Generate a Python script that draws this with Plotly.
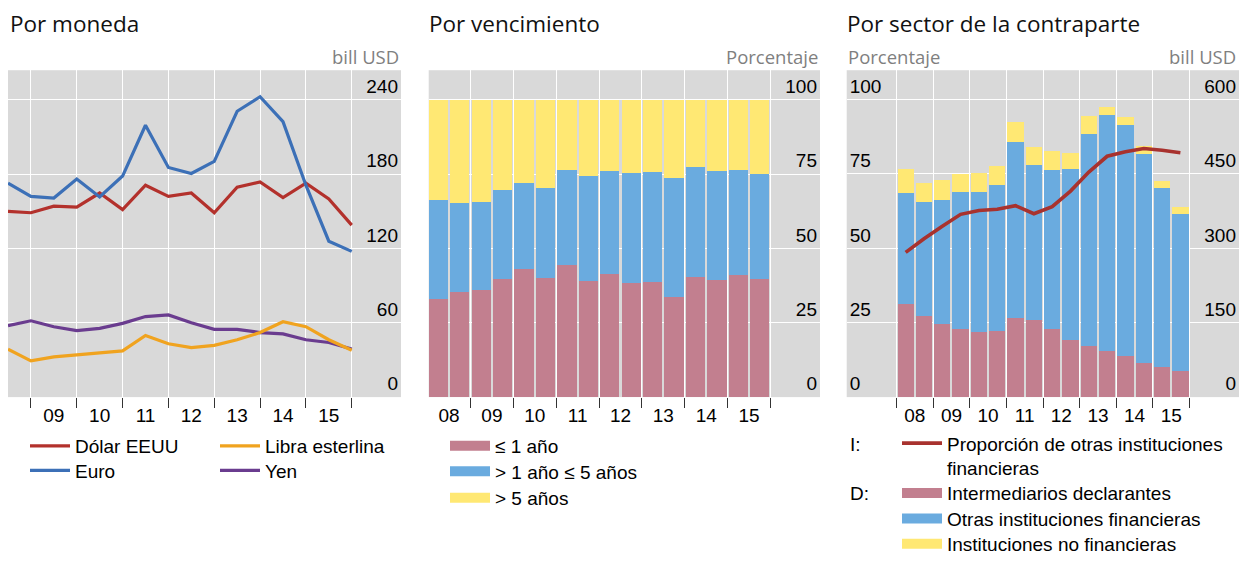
import plotly.graph_objects as go

W, H = 1239, 563

# ---------------- data ----------------
years = ["08", "09", "10", "11", "12", "13", "14", "15"]
idx = list(range(16))  # half-years, mid-2008 .. end-2015

# Panel 1: by currency (bill USD)
usd = [149.9, 148.8, 154.1, 153.3, 164.7, 151.4, 171.0, 162.0, 164.7, 148.8, 169.4, 173.6, 161.0, 172.6, 159.9, 138.8]
eur = [172.6, 162.0, 160.7, 176.0, 161.5, 178.4, 219.4, 185.3, 180.5, 190.3, 230.7, 242.4, 222.3, 171.0, 125.8, 117.6]
gbp = [38.6, 29.3, 32.5, 33.8, 35.7, 37.3, 49.7, 43.1, 39.9, 41.8, 46.3, 52.1, 60.8, 56.8, 46.3, 37.8]
jpy = [57.6, 61.6, 56.8, 53.7, 55.5, 59.5, 65.0, 66.3, 60.0, 54.7, 54.7, 52.1, 51.0, 46.3, 44.1, 38.9]

# Panel 2: by maturity (percentage)
mat_le1 = [33.1, 35.5, 36.1, 39.8, 43.2, 40.1, 44.4, 39.1, 41.4, 38.4, 38.8, 33.5, 40.5, 39.4, 41.2, 39.8]
mat_1to5 = [33.1, 29.7, 29.4, 30.0, 28.9, 30.1, 31.9, 35.3, 34.7, 37.0, 37.0, 40.3, 36.9, 36.7, 35.2, 35.3]
mat_gt5 = [33.8, 34.8, 34.5, 30.2, 27.9, 29.8, 23.7, 25.6, 23.9, 24.6, 24.2, 26.2, 22.6, 23.9, 23.6, 24.9]

# Panel 3: by counterparty sector
rep_dealers = [188.4, 164.0, 146.9, 136.3, 131.1, 132.4, 158.7, 156.1, 136.3, 115.3, 103.4, 92.9, 83.6, 67.8, 59.9, 52.0]
other_fin = [223.2, 229.8, 250.2, 277.3, 282.5, 295.0, 355.7, 310.9, 320.8, 343.7, 426.8, 474.8, 464.4, 422.9, 361.6, 316.2]
non_fin = [47.4, 37.6, 39.6, 35.6, 37.6, 37.6, 39.5, 36.8, 39.5, 33.6, 35.5, 17.8, 15.8, 15.8, 13.8, 15.8]
share_other_fin = [48.6, 53.2, 57.4, 61.4, 62.7, 63.1, 64.3, 61.6, 64.0, 69.2, 75.6, 80.9, 82.4, 83.5, 82.9, 82.1]

# ---------------- style ----------------
BG = "#d9d9d9"
C_USD, C_EUR, C_GBP, C_JPY = "#b3312c", "#3c70b7", "#f0a31f", "#6a3c8f"
C_PINK, C_BLUE, C_YEL = "#c27f8f", "#6aabdf", "#ffe873"
C_SHARE = "#a8322e"
TICK_FONT = dict(family="Liberation Sans, Arial, sans-serif", size=19, color="#000")
LEG_FONT = dict(family="Liberation Sans, Arial, sans-serif", size=19, color="#000")

ytop, ybot = 71.5, 404.3
ydom = [1 - ybot / H, 1 - ytop / H]

fig = go.Figure()

# ---- panel 1 lines ----
fig.add_trace(go.Scatter(x=idx, y=jpy, name="Yen", mode="lines", line=dict(color=C_JPY, width=3.2),
                         xaxis="x", yaxis="y", legend="legend4"))
fig.add_trace(go.Scatter(x=idx, y=gbp, name="Libra esterlina", mode="lines", line=dict(color=C_GBP, width=3.2),
                         xaxis="x", yaxis="y", legend="legend2"))
fig.add_trace(go.Scatter(x=idx, y=usd, name="Dólar EEUU", mode="lines", line=dict(color=C_USD, width=3.2),
                         xaxis="x", yaxis="y", legend="legend"))
fig.add_trace(go.Scatter(x=idx, y=eur, name="Euro", mode="lines", line=dict(color=C_EUR, width=3.2),
                         xaxis="x", yaxis="y", legend="legend3"))

# ---- panel 2 stacked bars ----
for name, vals, col, leg in [("≤ 1 año", mat_le1, C_PINK, "legend5"),
                             ("> 1 año ≤ 5 años", mat_1to5, C_BLUE, "legend6"),
                             ("> 5 años", mat_gt5, C_YEL, "legend7")]:
    fig.add_trace(go.Bar(x=idx, y=vals, name=name, marker=dict(color=col, line=dict(width=0)),
                         width=0.9, xaxis="x2", yaxis="y2", showlegend=False))
    fig.add_trace(go.Scatter(x=[None], y=[None], name=name, mode="lines",
                             line=dict(color=col, width=15), xaxis="x2", yaxis="y2", legend=leg))

# ---- panel 3 stacked bars (right axis) + share line (left axis) ----
for name, vals, col, leg in [("Intermediarios declarantes", rep_dealers, C_PINK, "legend9"),
                             ("Otras instituciones financieras", other_fin, C_BLUE, "legend10"),
                             ("Instituciones no financieras", non_fin, C_YEL, "legend11")]:
    fig.add_trace(go.Bar(x=idx, y=vals, name=name, marker=dict(color=col, line=dict(width=0)),
                         width=0.89, xaxis="x3", yaxis="y3", showlegend=False))
    fig.add_trace(go.Scatter(x=[None], y=[None], name=name, mode="lines",
                             line=dict(color=col, width=15), xaxis="x3", yaxis="y3", legend=leg))
fig.add_trace(go.Scatter(x=idx, y=share_other_fin, name="Proporción de otras instituciones<br>financieras",
                         mode="lines", line=dict(color=C_SHARE, width=3.6), xaxis="x3", yaxis="y4",
                         legend="legend8"))

# ---------------- axes ----------------
def xax(domain, rng, label_pos, labels, bounds, anchor):
    return dict(domain=domain, range=rng, anchor=anchor, tickmode="array", tickvals=label_pos,
                ticktext=labels, ticks="outside", ticklen=1, tickcolor="rgba(0,0,0,0)",
                tickfont=TICK_FONT, showgrid=False, zeroline=False, showline=False, fixedrange=True,
                minor=dict(tickvals=bounds, ticks="outside", ticklen=10, tickwidth=1, tickcolor="#333",
                           showgrid=True, gridcolor="white", gridwidth=1.2))

def yax(domain, rng, vals, side, anchor, grid=True, overlay=None):
    d = dict(domain=domain, range=rng, anchor=anchor, side=side, tickmode="array", tickvals=vals,
             ticks="", ticklabelposition="inside top", tickfont=TICK_FONT, showgrid=grid,
             gridcolor="white", gridwidth=1.2, zeroline=False, showline=False, fixedrange=True)
    if overlay:
        d["overlaying"] = overlay
    return d

mid1 = [2 * k for k in range(1, 8)]
bnd1 = [2 * k + 1 for k in range(0, 8)]
mid2 = [2 * k + 0.5 for k in range(8)]
bnd2 = [2 * k - 0.5 for k in range(9)]

fig.update_layout(
    xaxis=xax([8 / W, 401 / W], [0, 17.15], mid1, years[1:], bnd1, "y"),
    yaxis=yax(ydom, [0, 263.8], [0, 60, 120, 180, 240], "right", "x"),
    xaxis2=xax([428.7 / W, 820 / W], [-0.45, 17.81], mid2, years, bnd2, "y2"),
    yaxis2=yax(ydom, [0, 109.9], [0, 25, 50, 75, 100], "right", "x2"),
    xaxis3=xax([846.7 / W, 1.0], [-3.22, 18.2], mid2, years, bnd2, "y3"),
    yaxis3=yax(ydom, [0, 658.8], [0, 150, 300, 450, 600], "right", "x3"),
    yaxis4=yax(ydom, [0, 109.8], [0, 25, 50, 75, 100], "left", "x3", grid=False, overlay="y3"),
)

# ---------------- legends ----------------
def leg(px, py, valign="middle"):
    return dict(x=(px - 5) / W, y=1 - py / H, xanchor="left", yanchor="middle", orientation="v",
                bgcolor="rgba(0,0,0,0)", borderwidth=0, font=LEG_FONT, valign=valign,
                itemclick=False, itemdoubleclick=False, tracegroupgap=0, itemwidth=40)

fig.update_layout(
    legend=leg(30, 454), legend2=leg(220, 454), legend3=leg(30, 479), legend4=leg(220, 479),
    legend5=leg(450, 454), legend6=leg(450, 480), legend7=leg(450, 507),
    legend8=leg(902, 464, "top"), legend9=leg(902, 502), legend10=leg(902, 528), legend11=leg(902, 554),
)

# ---------------- text ----------------
TITLE_FONT = dict(family="Open Sans, Noto Sans, sans-serif", size=22.5, color="#111")
UNIT_FONT = dict(family="Open Sans, Noto Sans, sans-serif", size=18.5, color="#7f7f7f")
ann = []
for txt, x in [("Por moneda", 8), ("Por vencimiento", 427), ("Por sector de la contraparte", 845)]:
    ann.append(dict(text=txt, x=x / W, y=1 - 24 / H, xref="paper", yref="paper", xanchor="left",
                    yanchor="middle", showarrow=False, font=TITLE_FONT))
for txt, x, xa in [("bill USD", 401, "right"), ("Porcentaje", 820, "right"),
                   ("Porcentaje", 846, "left"), ("bill USD", 1238, "right")]:
    ann.append(dict(text=txt, x=x / W, y=1 - 58 / H, xref="paper", yref="paper", xanchor=xa,
                    yanchor="middle", showarrow=False, font=UNIT_FONT))
for txt, y in [("I:", 453), ("D:", 502)]:
    ann.append(dict(text=txt, x=848 / W, y=1 - y / H, xref="paper", yref="paper", xanchor="left",
                    yanchor="middle", showarrow=False, font=LEG_FONT))

fig.update_layout(
    annotations=ann,
    width=W, height=H, margin=dict(l=0, r=0, t=0, b=0),
    paper_bgcolor="white", plot_bgcolor=BG,
    barmode="stack", showlegend=True,
    font=dict(family="Liberation Sans, Arial, sans-serif"),
)

fig.write_html(
    "out.html", config={"displayModeBar": False, "responsive": False},
    post_script=("document.documentElement.style.margin='0';document.documentElement.style.overflow='hidden';"
                 "document.body.style.margin='0';document.body.style.overflow='hidden';"))
